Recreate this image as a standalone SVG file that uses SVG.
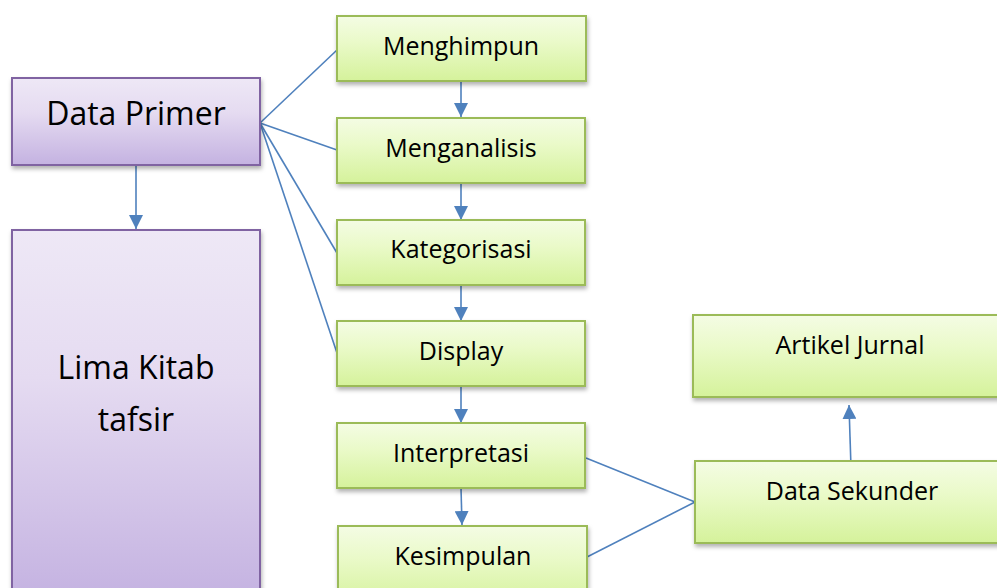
<svg xmlns="http://www.w3.org/2000/svg" width="997" height="588" viewBox="0 0 997 588">
<style>
.p{fill:url(#gp);stroke:#8064a2;stroke-width:2;filter:url(#sh)}
.g{fill:url(#gg);stroke:#9bbb59;stroke-width:2;filter:url(#sh)}
.t{font-family:"Open Sans","Liberation Sans",sans-serif;fill:#000;text-anchor:middle}
.s{font-size:25px}
.l{font-size:32px}
.c{stroke:#4f81bd;stroke-width:1.6;fill:none}
</style>
<defs>
<linearGradient id="gp" x1="0" y1="0" x2="0" y2="1"><stop offset="0" stop-color="#eee8f6"/><stop offset="0.4" stop-color="#e5dbf1"/><stop offset="1" stop-color="#c4b2e1"/></linearGradient>
<linearGradient id="gg" x1="0" y1="0" x2="0" y2="1"><stop offset="0" stop-color="#f4fce4"/><stop offset="0.4" stop-color="#eafac9"/><stop offset="1" stop-color="#d5f29b"/></linearGradient>
<filter id="sh" x="-10%" y="-10%" width="120%" height="130%"><feDropShadow dx="1" dy="3" stdDeviation="2" flood-color="#000" flood-opacity="0.3"/></filter>
<marker id="ar2" viewBox="0 0 14 14" refX="14" refY="7" markerWidth="14" markerHeight="14" markerUnits="userSpaceOnUse" orient="auto"><path d="M0,0 L14,7 L0,14 z" fill="#4f81bd"/></marker>
</defs>
<g id="connectors">
<line class="c" x1="260" y1="123" x2="337" y2="50"/>
<line class="c" x1="260" y1="123" x2="337" y2="150"/>
<line class="c" x1="260" y1="123" x2="337" y2="253"/>
<line class="c" x1="260" y1="123" x2="337" y2="353"/>
<line class="c" x1="586" y1="458" x2="695" y2="502"/>
<line class="c" x1="587" y1="557" x2="695" y2="502"/>
<line class="c" x1="136" y1="166" x2="136" y2="229" style="marker-end:url(#ar2)"/>
<line class="c" x1="461" y1="81" x2="461" y2="117" style="marker-end:url(#ar2)"/>
<line class="c" x1="461" y1="183" x2="461" y2="220" style="marker-end:url(#ar2)"/>
<line class="c" x1="461" y1="285" x2="461" y2="321" style="marker-end:url(#ar2)"/>
<line class="c" x1="461" y1="386" x2="461" y2="423" style="marker-end:url(#ar2)"/>
<line class="c" x1="461" y1="488" x2="462" y2="525" style="marker-end:url(#ar2)"/>
<line class="c" x1="851" y1="468" x2="849" y2="405" style="marker-end:url(#ar2)"/>
</g>
<g id="data-primer"><rect class="p" x="12" y="78" width="248" height="87"/><text class="t l" x="136" y="125">Data Primer</text></g>
<g id="lima-kitab"><rect class="p" x="12" y="230" width="248" height="370"/><text class="t l" x="136" y="379">Lima Kitab</text><text class="t l" x="136" y="431">tafsir</text></g>
<g id="menghimpun"><rect class="g" x="337" y="16" width="249" height="65"/><text class="t s" x="461" y="55">Menghimpun</text></g>
<g id="menganalisis"><rect class="g" x="337" y="118" width="248" height="65"/><text class="t s" x="461" y="157">Menganalisis</text></g>
<g id="kategorisasi"><rect class="g" x="337" y="220" width="248" height="65"/><text class="t s" x="461" y="258">Kategorisasi</text></g>
<g id="display"><rect class="g" x="337" y="321" width="248" height="65"/><text class="t s" x="461" y="360">Display</text></g>
<g id="interpretasi"><rect class="g" x="337" y="423" width="248" height="65"/><text class="t s" x="461" y="462">Interpretasi</text></g>
<g id="kesimpulan"><rect class="g" x="338" y="526" width="249" height="80"/><text class="t s" x="463" y="565">Kesimpulan</text></g>
<g id="artikel-jurnal"><rect class="g" x="693" y="315" width="320" height="82"/><text class="t s" x="850" y="354">Artikel Jurnal</text></g>
<g id="data-sekunder"><rect class="g" x="695" y="461" width="320" height="82"/><text class="t s" x="852" y="500">Data Sekunder</text></g>
</svg>
